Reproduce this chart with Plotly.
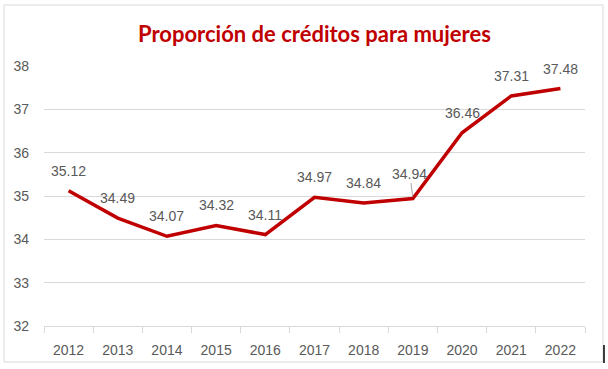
import plotly.graph_objects as go

years = ["2012", "2013", "2014", "2015", "2016", "2017", "2018", "2019", "2020", "2021", "2022"]
values = [35.12, 34.49, 34.07, 34.32, 34.11, 34.97, 34.84, 34.94, 36.46, 37.31, 37.48]
y_ticks = [32, 33, 34, 35, 36, 37, 38]

RED = "#C00000"
TXT = "#595959"

fig = go.Figure()
fig.add_trace(go.Scatter(x=years, y=values, mode="lines",
                         line=dict(color=RED, width=3.5), hoverinfo="skip"))

annotations = []
for i, (yr, v) in enumerate(zip(years, values)):
    if yr == "2019":
        annotations.append(dict(x=i, y=v, xref="x", yref="y", text=f"{v:.2f}",
                                showarrow=True, arrowhead=0, arrowwidth=1,
                                arrowcolor="#A6A6A6", ax=-3, ay=-25, standoff=2,
                                font=dict(family="Liberation Sans", size=14, color=TXT)))
    else:
        annotations.append(dict(x=i, y=v, xref="x", yref="y", text=f"{v:.2f}",
                                showarrow=False, yshift=20,
                                font=dict(family="Liberation Sans", size=14, color=TXT)))

annotations.append(dict(text="<b>Proporción de créditos para mujeres</b>",
                        xref="paper", yref="paper", x=0.5, y=1, yshift=33,
                        xanchor="center", yanchor="middle", showarrow=False,
                        font=dict(family="Lato", size=22, color=RED)))

fig.update_layout(
    width=608, height=369,
    margin=dict(l=44, r=23, t=66, b=43),
    paper_bgcolor="white", plot_bgcolor="white",
    showlegend=False,
    annotations=annotations,
    font=dict(family="Liberation Sans", size=14, color=TXT),
    shapes=[dict(type="rect", xref="paper", yref="paper",
                 x0=-40/541, x1=1 + 18/541, y0=-36/260, y1=1 + 61/260,
                 line=dict(color="#D9D9D9", width=1), layer="below"),
            dict(type="line", xref="paper", yref="paper",
                 x0=1 + 19/541, x1=1 + 19/541, y0=-19/260, y1=-37/260,
                 line=dict(color="black", width=1.5))],
)
fig.update_xaxes(type="category", showgrid=False, showline=True, linecolor="#D9D9D9",
                 linewidth=1, ticks="outside", tickson="boundaries", ticklen=6,
                 tickcolor="#D9D9D9", tickfont=dict(size=14, color=TXT),
                 ticklabelstandoff=11, range=[-0.5, 10.5])
fig.update_yaxes(range=[32, 38], tickvals=y_ticks, showgrid=True, gridcolor="#D9D9D9",
                 gridwidth=1, showline=False, zeroline=False, ticks="",
                 tickfont=dict(size=14, color=TXT), ticklabelstandoff=14)

fig.write_html("out.html", config={"displayModeBar": False},
               post_script="document.body.style.margin='0';")
